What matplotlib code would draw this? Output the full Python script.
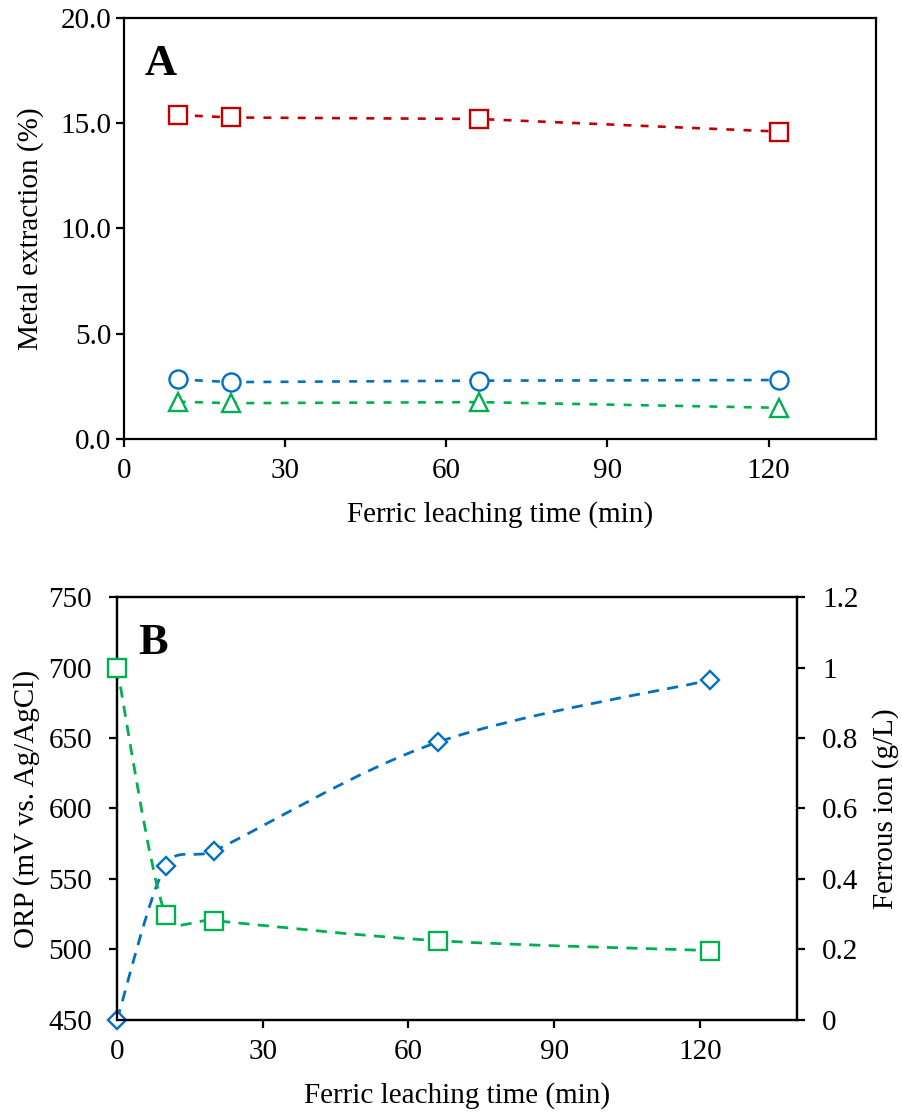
import numpy as np
import matplotlib
matplotlib.use("Agg")
import matplotlib.pyplot as plt
from matplotlib.path import Path
from matplotlib.patches import PathPatch

plt.rcParams['font.family'] = ['Liberation Serif', 'DejaVu Serif']
plt.rcParams['font.size'] = 21

# Sampling times (min)
time_a = [10, 20, 66, 122]
time_b = [0, 10, 20, 66, 122]

# Panel A: metal extraction (%)
ext_red = [15.39, 15.27, 15.20, 14.60]
ext_blue = [2.83, 2.70, 2.77, 2.80]
ext_green = [1.77, 1.70, 1.75, 1.48]

# Panel B: ORP and ferrous ion
orp = [450, 559.5, 570, 647, 691]
ferrous = [1.0, 0.298, 0.282, 0.225, 0.197]

RED = '#C00000'
BLUE = '#0070C0'
GREEN = '#00B050'


def smooth_path(ax, x, y, limit=0.45):
    # Smoothed line as cubic Bezier segments, worked out in pixel space
    fig = ax.figure
    pos = ax.get_position()
    w = pos.width * fig.get_figwidth() * fig.dpi
    h = pos.height * fig.get_figheight() * fig.dpi
    x0, x1 = ax.get_xlim()
    y0, y1 = ax.get_ylim()
    sc = np.array([w / (x1 - x0), h / (y1 - y0)])
    pts = np.column_stack([x, y]).astype(float) * sc
    n = len(pts)
    verts = [pts[0]]
    codes = [Path.MOVETO]
    for i in range(n - 1):
        p0 = pts[max(i - 1, 0)]
        p1 = pts[i]
        p2 = pts[i + 1]
        p3 = pts[min(i + 2, n - 1)]
        seg = np.hypot(*(p2 - p1))
        t1 = (p2 - p0) / 6.0
        t2 = (p3 - p1) / 6.0
        for t in (t1, t2):
            L = np.hypot(*t)
            if L > limit * seg:
                t *= limit * seg / L
        verts += [p1 + t1, p2 - t2, p2]
        codes += [Path.CURVE4] * 3
    verts = np.array(verts) / sc
    return Path(verts, codes)


def markers(ax, x, y, color, marker, ms):
    ax.plot(x, y, linestyle='none', marker=marker, markersize=ms,
            markerfacecolor='white', markeredgecolor=color,
            markeredgewidth=1.7, zorder=3, clip_on=False)


def style_axes(ax, ypad):
    for s in ax.spines.values():
        s.set_linewidth(1.6)
    ax.tick_params(direction='out', length=6, width=1.6, labelsize=21)
    ax.tick_params(axis='x', pad=8)
    ax.tick_params(axis='y', pad=ypad)


fig = plt.figure(figsize=(9.02, 11.13), dpi=100)

# ---- Panel A ----
axa = fig.add_axes([0.1375, 0.6056, 0.8337, 0.3783])
for vals, col, mk in [(ext_red, RED, 's'), (ext_blue, BLUE, 'o'),
                      (ext_green, GREEN, '^')]:
    axa.plot(time_a, vals, color=col, linewidth=1.9,
             linestyle=(0, (3, 3.5)), zorder=2)
    markers(axa, time_a, vals, col, mk, 13)
axa.set_xlim(0, 140)
axa.set_ylim(0, 20)
axa.set_xticks([0, 30, 60, 90, 120])
axa.set_yticks([0, 5, 10, 15, 20])
axa.set_yticklabels(['0.0', '5.0', '10.0', '15.0', '20.0'])
axa.set_xlabel('Ferric leaching time (min)', labelpad=12)
axa.set_ylabel('Metal extraction (%)', labelpad=12)
axa.text(0.028, 0.865, 'A', transform=axa.transAxes, fontsize=32,
         fontweight='bold')
style_axes(axa, 3)

# ---- Panel B ----
axb = fig.add_axes([0.1297, 0.0836, 0.7539, 0.380])
axf = axb.twinx()
axb.set_xlim(0, 140)
axb.set_ylim(450, 750)
axf.set_ylim(0, 1.2)

axb.add_patch(PathPatch(smooth_path(axb, time_b, orp), fill=False,
                        edgecolor=BLUE, linewidth=2, linestyle=(0, (4, 3)),
                        zorder=2))
markers(axb, time_b, orp, BLUE, 'D', 9)
axf.add_patch(PathPatch(smooth_path(axf, time_b, ferrous), fill=False,
                        edgecolor=GREEN, linewidth=2, linestyle=(0, (4, 3)),
                        zorder=2))
markers(axf, time_b, ferrous, GREEN, 's', 12.5)

axb.set_xticks([0, 30, 60, 90, 120])
axb.set_yticks([450, 500, 550, 600, 650, 700, 750])
axf.set_yticks([0, 0.2, 0.4, 0.6, 0.8, 1.0, 1.2])
axf.set_yticklabels(['0', '0.2', '0.4', '0.6', '0.8', '1', '1.2'])
axb.set_xlabel('Ferric leaching time (min)', labelpad=12)
axb.set_ylabel('ORP (mV vs. Ag/AgCl)', labelpad=6)
axf.set_ylabel('Ferrous ion (g/L)', labelpad=10)
axb.text(0.031, 0.865, 'B', transform=axb.transAxes, fontsize=32,
         fontweight='bold')
style_axes(axb, 12)
style_axes(axf, 12)

fig.savefig('out.png', dpi=100)
